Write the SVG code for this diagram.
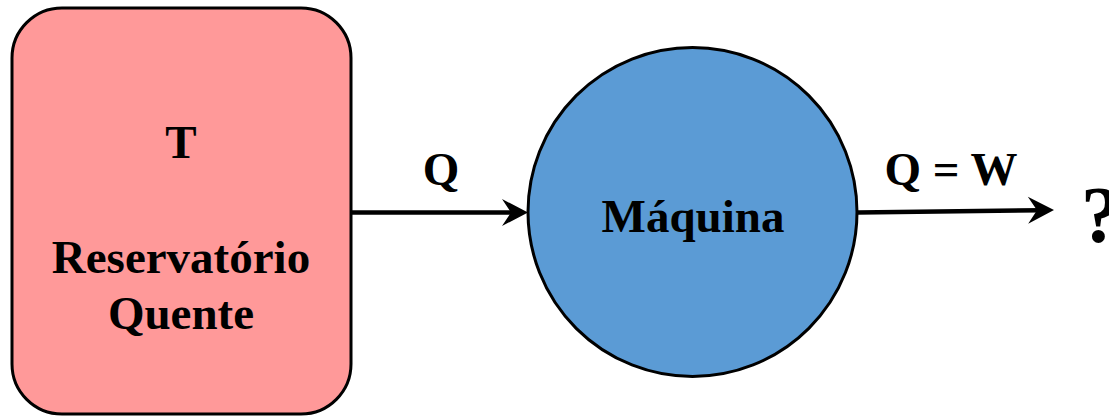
<svg xmlns="http://www.w3.org/2000/svg" width="1109" height="417" viewBox="0 0 1109 417">
  <style>
    .lbl { font-family: "Liberation Serif", "Times New Roman", serif; font-weight: bold; font-size: 47px; fill: #000; text-anchor: middle; }
    .edge { stroke: #000; stroke-width: 4.5; fill: none; }
  </style>
  <defs>
    <marker id="arrow" viewBox="0 0 27 28" refX="14" refY="14" markerWidth="27" markerHeight="28" markerUnits="userSpaceOnUse" orient="auto">
      <path d="M27,14 L1,0.5 L10,14 L1,27.5 Z" fill="#000"/>
    </marker>
  </defs>
  <rect width="1109" height="417" fill="#fff"/>
  <g id="reservatorio">
    <rect x="12" y="8" width="339" height="406" rx="50" ry="50" fill="#FF9999" stroke="#000" stroke-width="3"/>
    <text class="lbl" x="181" y="158">T</text>
    <text class="lbl" x="181" y="273">Reservatório</text>
    <text class="lbl" x="181" y="329">Quente</text>
  </g>
  <g id="maquina">
    <circle cx="692.5" cy="212" r="164.5" fill="#5B9BD5" stroke="#000" stroke-width="3"/>
    <text class="lbl" x="693" y="232">Máquina</text>
  </g>
  <g id="connectors">
    <path class="edge" d="M352,212.5 L515,212.5" marker-end="url(#arrow)"/>
    <text class="lbl" x="441" y="185">Q</text>
    <path class="edge" d="M858,212.5 L1041,210.2" marker-end="url(#arrow)"/>
    <text class="lbl" x="951" y="185">Q = W</text>
  </g>
  <g id="interrogacao">
    <text x="1081" y="242" font-family="Liberation Serif, Times New Roman, serif" font-weight="bold" font-size="80" fill="#000">?</text>
  </g>
</svg>
